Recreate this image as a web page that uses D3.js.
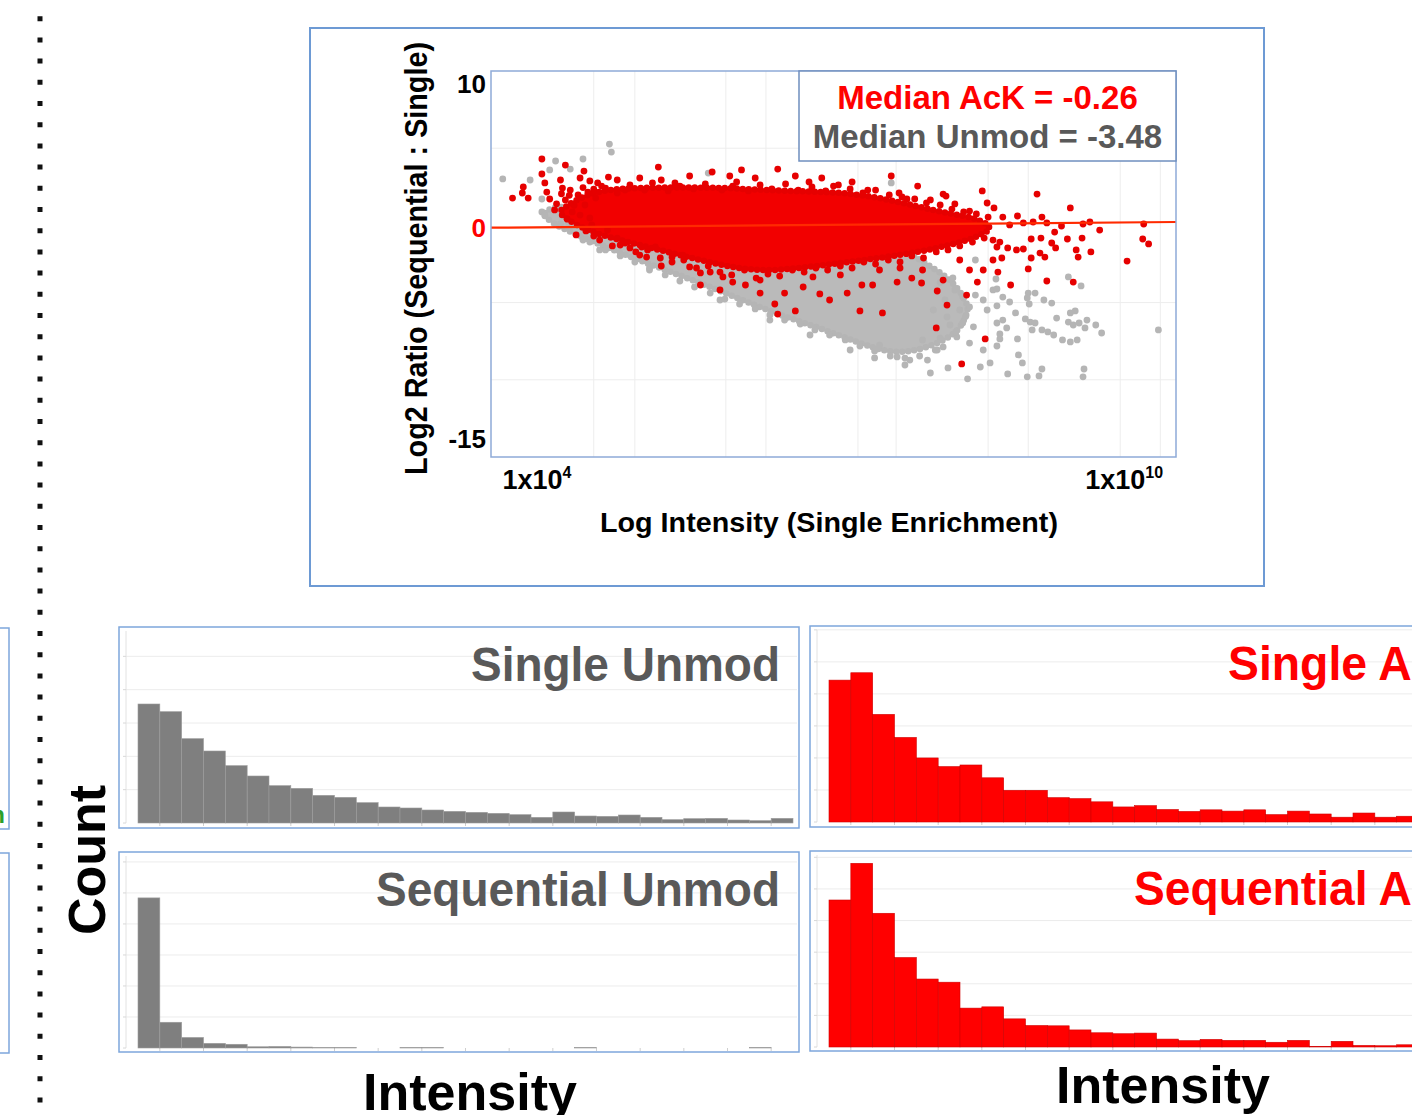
<!DOCTYPE html>
<html>
<head>
<meta charset="utf-8">
<script src="https://cdn.jsdelivr.net/npm/d3@7"></script>
<style>
  body { margin: 0; background: #fff; }
  svg { display: block; font-family: "Liberation Sans", Arial, sans-serif; font-weight: bold; }
</style>
</head>
<body>
<svg id="fig" width="1412" height="1115"></svg>
<script>
// ---------- scatter: x = log10 intensity, y = log2 ratio ----------
const xTicks = [1e4, 1e10];
const yTicks = [10, 0, -15];
const xGridExp = [4.58, 5.0, 5.93, 6.34, 7.28, 7.67, 8.61, 9.02, 9.96, 10.37];
const yGrid = [5, -5, -10];
const fitLine = [[3.53, -0.15], [10.53, 0.22]];
const medianAcK = -0.26;
const medianUnmod = -3.48;

// dense parts of each cloud: [x, low, high]
const greyCore = [[4.08,0.6,0.8],[4.18,0.03,1.32],[4.44,-0.69,1.0],[4.85,-1.79,0.67],[5.26,-2.76,0.67],[5.67,-3.73,0.67],
  [6.07,-4.77,0.67],[6.48,-5.8,0.35],[6.89,-6.65,0.03],[7.30,-7.62,-0.3],[7.61,-8.3,-0.95],
  [7.91,-8.1,-2.24],[8.17,-7.42,-3.21],[8.32,-6.78,-4.18],[8.40,-5.6,-5.2]];
const redCore = [[4.25,0.7,1.0],[4.39,0.03,1.65],[4.64,-0.62,2.29],[5.05,-1.27,2.45],[5.46,-1.92,2.45],[5.87,-2.56,2.45],
  [6.28,-3.0,2.3],[6.69,-2.76,2.2],[7.10,-2.44,2.15],[7.50,-2.11,1.8],[7.91,-1.72,1.2],
  [8.22,-1.27,0.75],[8.48,-0.82,0.5],[8.62,-0.3,0.0]];

const greyPts = [[3.65,3.01],[3.93,2.94],[4.19,4.17],[4.47,4.30],[4.74,5.27],[4.76,4.75],[5.75,3.39],
  [4.05,1.71],[4.05,0.87],[4.08,0.67],[4.32,0.22],[4.24,0.09],[4.13,3.59],[4.34,3.65],[4.47,-0.95],
  [7.62,2.75],[7.54,1.65],[8.05,-5.48],[8.19,-5.93],[8.35,-6.32],[8.29,-7.22],[8.42,-7.62],[8.56,-8.07],
  [8.63,-8.91],[8.40,-9.94],[8.53,-9.17],[8.09,-8.07],[7.99,-8.72],[7.81,-8.72],[7.68,-8.52],[7.94,-7.42],
  [8.15,-7.87],[8.42,-5.28],[8.56,-4.83],[8.66,-4.18],[8.60,-5.48],[8.70,-6.32],[8.46,-6.57],[9.43,-3.34],
  [9.56,-3.92],[8.69,-3.47],[8.70,-4.12],[8.76,-4.64],[8.83,-4.96],[9.02,-4.38],[9.09,-4.38],[9.01,-4.70],
  [9.03,-5.09],[9.18,-4.83],[9.26,-5.03],[8.70,-5.21],[8.89,-5.67],[9.31,-6.00],[9.45,-5.67],[9.50,-5.54],
  [9.43,-6.26],[9.48,-6.45],[9.54,-6.32],[9.60,-6.64],[8.99,-6.06],[9.04,-6.26],[9.09,-6.32],[8.76,-6.13],
  [8.80,-6.64],[9.06,-6.77],[9.16,-6.77],[9.22,-6.90],[9.28,-7.10],[9.77,-6.97],[10.35,-6.77],[9.37,-7.42],
  [9.45,-7.55],[8.73,-7.03],[8.73,-7.35],[8.91,-7.35],[8.70,-7.81],[8.92,-8.39],[8.96,-8.91],[8.81,-9.62],
  [9.01,-9.81],[9.13,-9.75],[9.16,-9.30],[9.59,-9.30],[9.58,-9.81],[9.71,-6.45],[9.62,-6.13],[9.52,-7.42],
  [4.64,-1.59],[5.15,-2.89],[5.87,-4.83],[6.38,-6.13],[6.79,-7.10],[7.20,-8.07],[7.45,-8.58],[7.76,-9.04],
  [7.50,-7.75],[8.20,-9.23],[8.02,-9.56],[8.48,-2.24],[8.27,-4.18],[8.17,-4.83],[8.32,-5.48],[8.48,-4.51],
  [8.22,-6.45],
  // ragged lower edge of the grey cloud
  [4.54,-1.08],[4.70,-1.59],[4.85,-1.98],[5.00,-2.37],[5.15,-2.76],[5.31,-3.21],[5.46,-3.60],[5.61,-3.99],
  [5.77,-4.38],[5.92,-4.77],[6.07,-5.09],[6.23,-5.41],[6.38,-5.80],[6.53,-6.13],[6.69,-6.39],[6.84,-6.77],
  [6.99,-7.10],[7.15,-7.42],[7.30,-7.81],[7.45,-8.13],[7.61,-8.46],[7.76,-8.59],[7.91,-8.46],[8.07,-8.07],
  [8.12,-3.70],[8.25,-3.40],[8.35,-4.60],[8.38,-5.90],[8.28,-6.90],[8.12,-7.30]];

const redPts = [[4.05,4.30],[4.29,3.91],[4.05,3.33],[3.86,2.49],[3.85,2.10],[3.75,1.77],[3.91,1.77],
  [4.08,2.75],[4.10,2.16],[4.13,1.71],[4.24,2.94],[4.26,2.42],[4.48,3.52],[4.44,3.07],[4.54,2.88],
  [4.34,2.29],[4.40,-0.62],[4.58,-0.69],[4.50,-0.36],[4.72,-0.30],[4.82,-0.82],[4.85,-1.27],[4.95,-1.46],
  [5.07,-1.40],[5.21,-1.40],[5.12,-2.05],[5.27,-2.63],[5.38,-2.05],[5.49,-1.92],[5.56,-2.69],[5.67,-3.08],
  [5.77,-3.02],[5.90,-3.34],[5.24,3.78],[5.27,2.94],[5.41,2.75],[5.97,3.20],[6.04,2.81],[4.62,2.75],
  [4.73,3.13],[4.82,2.94],[6.09,3.59],[6.46,3.65],[6.78,2.81],[7.03,2.55],[7.22,2.81],[7.62,3.20],
  [7.70,2.10],[8.15,2.03],[8.55,2.23],[8.60,1.45],[8.42,0.93],[8.27,1.39],[8.02,1.65],[7.78,1.71],
  [6.00,-3.67],[6.13,-3.86],[6.28,-4.38],[6.43,-5.09],[6.46,-5.74],[6.64,-5.54],[6.53,-4.38],[6.89,-4.44],
  [6.99,-4.83],[7.17,-4.38],[7.30,-5.54],[7.53,-5.67],[7.43,-3.86],[7.32,-3.86],[7.68,-3.67],[7.93,-3.73],
  [8.09,-4.25],[8.19,-5.16],[8.08,-6.64],[8.34,-8.97],[8.58,-7.35],[8.39,-4.51],[8.50,-3.67],[8.56,-2.89],
  [8.42,-2.89],[8.32,-2.24],[8.15,-3.54],[8.70,-1.40],[8.66,-2.24],[7.94,-2.89],[7.83,-3.41],[6.82,-3.34],
  [6.72,-3.99],[9.11,2.03],[9.45,1.13],[8.67,1.13],[8.76,0.54],[8.91,0.61],[9.16,0.54],[8.97,0.16],
  [9.07,0.22],[9.21,0.16],[9.36,-0.04],[9.58,0.09],[10.20,0.09],[10.19,-0.88],[10.25,-1.20],[10.03,-2.31],
  [9.66,-1.72],[9.53,-2.05],[9.51,-1.59],[9.42,-0.88],[9.57,-0.82],[9.30,-1.46],[9.26,-1.14],[9.15,-0.82],
  [9.19,-2.05],[9.14,-1.79],[9.05,-2.11],[9.05,-0.88],[8.97,-1.53],[8.90,-1.59],[8.81,-1.46],[8.75,-2.11],
  [8.71,-3.02],[9.02,-2.82],[9.21,-3.60],[9.48,-3.67],[8.84,-3.86],[8.73,-1.08],[8.66,-0.95],[8.83,0.03],
  [9.29,-0.43],[9.75,-0.30],[9.65,0.22],[5.05,3.07],[5.56,3.20],[5.79,3.46],[6.23,3.07],[6.64,3.20],
  [6.91,3.07],[7.38,2.29],[7.89,2.55],[8.18,1.90],[4.90,2.29],[4.29,1.65],[4.36,0.87],[4.49,1.32],
  [4.54,0.48],[4.18,1.00],[4.42,1.97],[5.05,-1.92],[5.67,-3.86],[5.87,-4.18],[6.28,-3.54],[7.10,-3.21],
  [7.50,-2.89],[7.71,-2.76],[4.44,0.67],[4.56,0.03],[4.60,1.77],[4.52,2.16],
  [4.20,1.40],[4.31,0.40],[4.38,1.30],[4.47,2.45],[4.33,1.95],[4.25,2.05],[4.58,2.35],[4.66,2.55],
  // ragged upper edge of the red cloud
  [4.70,2.42],[4.82,2.10],[4.95,2.62],[5.10,2.29],[5.18,2.75],[5.34,2.23],[5.46,2.55],[5.60,2.36],
  [5.72,2.68],[5.89,2.29],[6.00,2.55],[6.16,2.23],[6.28,2.62],[6.40,2.36],[6.54,2.68],[6.67,2.29],
  [6.81,2.49],[6.95,2.23],[7.08,2.62],[7.20,2.36],[7.33,2.10],[7.46,2.29],[7.60,1.97],[7.73,1.84],
  [7.86,1.71],[7.98,1.45],[8.12,1.32],[8.24,1.06],[8.36,0.87],[8.49,0.74],[8.61,0.54],
  // ragged lower edge of the red cloud
  [4.64,-0.95],[4.77,-1.33],[4.90,-1.14],[5.01,-1.72],[5.13,-1.59],[5.26,-2.11],[5.38,-2.37],[5.50,-2.24],
  [5.63,-2.76],[5.75,-2.63],[5.87,-3.02],[5.99,-3.21],[6.12,-2.89],[6.24,-3.41],[6.36,-3.15],[6.48,-3.28],
  [6.61,-2.89],[6.73,-3.02],[6.85,-2.76],[6.97,-2.89],[7.10,-2.63],[7.22,-2.76],[7.34,-2.37],[7.46,-2.50],
  [7.59,-2.24],[7.71,-2.37],[7.83,-1.98],[7.95,-2.11],[8.08,-1.72],[8.20,-1.59],[8.32,-1.33],[8.45,-1.08],
  [8.57,-0.82]];

// ---------- histograms: 30 intensity bins, counts ----------
const histBins = 30;
const singleUnmod = [357,334,253,216,172,141,112,104,83,77,61,48,45,39,35,32,29,25,17,33,21,20,24,17,10,13,14,9,7,14];
const seqUnmod = [484,83,34,15,12,4,5,3,1,1,0,0,1,1,0,0,0,0,0,0,1,0,0,0,0,0,0,0,1,0];
const singleAcK = [443,466,336,264,200,173,178,138,99,99,76,73,63,47,51,39,33,38,34,38,23,34,25,15,28,15,18,12,10,8];
const seqAcK = [465,581,423,283,215,205,123,127,89,68,67,54,45,42,44,25,20,24,21,21,15,21,2,18,5,4,7,4,3,3];

const RED = "#ff0000", GREY_TXT = "#595959", BORDER = "#7ea6dc";
const svg = d3.select("#fig");

// dotted separator on the left
svg.append("line").attr("x1", 40).attr("x2", 40).attr("y1", -5).attr("y2", 1112)
  .attr("stroke", "#111").attr("stroke-width", 5).attr("stroke-dasharray", "5,16.2");

// panels cut off at the left edge
[[628, 201], [853, 200]].forEach(([py, h]) => {
  svg.append("rect").attr("x", -671).attr("y", py).attr("width", 680).attr("height", h)
    .attr("fill", "none").attr("stroke", BORDER).attr("stroke-width", 1.5);
});
svg.append("text").attr("x", 5).attr("y", 823).attr("text-anchor", "end")
  .attr("fill", "#2ca02c").style("font-size", "24px").text("n");

// ---------- scatter ----------
svg.append("rect").attr("x", 310).attr("y", 28).attr("width", 954).attr("height", 558)
  .attr("fill", "none").attr("stroke", "#6d9ad4").attr("stroke-width", 2);

const x = d3.scaleLog().domain([Math.pow(10, 3.53), Math.pow(10, 10.53)]).range([491, 1176]);
const y = d3.scaleLinear().domain([-15, 10]).range([457, 71]);
const px = e => x(Math.pow(10, e));

const sc = svg.append("g");
sc.selectAll(".vg").data(xGridExp).join("line").attr("class", "vg")
  .attr("x1", px).attr("x2", px).attr("y1", 71).attr("y2", 457)
  .attr("stroke", "#ededed").attr("stroke-width", 1);
sc.selectAll(".hg").data(yGrid).join("line").attr("class", "hg")
  .attr("x1", 491).attr("x2", 1176).attr("y1", d => y(d)).attr("y2", d => y(d))
  .attr("stroke", "#ededed").attr("stroke-width", 1);

const core = d3.area().curve(d3.curveBasis)
  .x(d => px(d[0])).y0(d => y(d[1])).y1(d => y(d[2]));

// dense cores get a beaded outline so their edges read as dots
sc.append("path").datum(greyCore).attr("d", core).attr("fill", "#bababa")
  .attr("stroke", "#b5b5b5").attr("stroke-width", 6.5).attr("stroke-linecap", "round")
  .attr("stroke-dasharray", "0 6");
sc.selectAll(".gp").data(greyPts).join("circle").attr("class", "gp")
  .attr("cx", d => px(d[0])).attr("cy", d => y(d[1])).attr("r", 3.4).attr("fill", "#b5b5b5");
sc.append("path").datum(redCore).attr("d", core).attr("fill", "#f20000")
  .attr("stroke", "#e60000").attr("stroke-width", 6.5).attr("stroke-linecap", "round")
  .attr("stroke-dasharray", "0 6");
sc.selectAll(".rp").data(redPts).join("circle").attr("class", "rp")
  .attr("cx", d => px(d[0])).attr("cy", d => y(d[1])).attr("r", 3.4).attr("fill", "#e60000");

sc.append("path").datum(fitLine)
  .attr("d", d3.line().x(d => px(d[0])).y(d => y(d[1])))
  .attr("stroke", "#ff2a00").attr("stroke-width", 2.2).attr("fill", "none");

sc.append("rect").attr("x", 491).attr("y", 71).attr("width", 685).attr("height", 386)
  .attr("fill", "none").attr("stroke", "#8eaad8").attr("stroke-width", 1.5);

// legend box
sc.append("rect").attr("x", 799).attr("y", 71).attr("width", 377).attr("height", 90)
  .attr("fill", "#fff").attr("stroke", "#6f8fbf").attr("stroke-width", 1.5);
sc.append("text").attr("x", 987.5).attr("y", 109).attr("text-anchor", "middle")
  .attr("fill", RED).style("font-size", "33px").text("Median AcK = " + medianAcK.toFixed(2));
sc.append("text").attr("x", 987.5).attr("y", 148).attr("text-anchor", "middle")
  .attr("fill", GREY_TXT).style("font-size", "33px").text("Median Unmod = " + medianUnmod.toFixed(2));

// y tick labels (placed just inside the ends of the axis)
sc.selectAll(".yt").data(yTicks).join("text").attr("class", "yt")
  .attr("x", 486).attr("text-anchor", "end")
  .attr("y", d => y(d) + (d === 10 ? 22 : d === -15 ? -9 : 12))
  .attr("fill", d => d === 0 ? RED : "#000").style("font-size", "26px").text(d => d);

// x tick labels 1x10^n
const xt = sc.selectAll(".xt").data(xTicks).join("text").attr("class", "xt")
  .attr("x", d => x(d)).attr("y", 489).attr("text-anchor", "middle").style("font-size", "27px");
xt.append("tspan").text("1x10");
xt.append("tspan").attr("dy", -11).style("font-size", "16px").text(d => Math.round(Math.log10(d)));

sc.append("text").attr("x", 829).attr("y", 532).attr("text-anchor", "middle")
  .attr("textLength", 458).attr("lengthAdjust", "spacingAndGlyphs")
  .style("font-size", "27px").text("Log Intensity (Single Enrichment)");
sc.append("text").attr("transform", "translate(427,258.5) rotate(-90)").attr("text-anchor", "middle")
  .attr("textLength", 433).attr("lengthAdjust", "spacingAndGlyphs")
  .style("font-size", "31px").text("Log2 Ratio (Sequential : Single)");

// ---------- histograms ----------
const panels = [
  { title: "Single Unmod", counts: singleUnmod, fill: "#7f7f7f", edge: "#9c9c9c", tc: GREY_TXT, x: 119, y: 627, ymax: 588, tl: 309 },
  { title: "Sequential Unmod", counts: seqUnmod, fill: "#7f7f7f", edge: "#9c9c9c", tc: GREY_TXT, x: 119, y: 852, ymax: 632, tl: 404 },
  { title: "Single AcK", counts: singleAcK, fill: "#ff0000", edge: "#d00000", tc: RED, x: 810, y: 626, ymax: 612, tl: 243 },
  { title: "Sequential AcK", counts: seqAcK, fill: "#ff0000", edge: "#d00000", tc: RED, x: 810, y: 851, ymax: 620, tl: 337 }
];

panels.forEach(p => {
  const g = svg.append("g");
  const bx = d3.scaleLinear().domain([0, histBins]).range([p.x + 19, p.x + 674]);
  const by = d3.scaleLinear().domain([0, p.ymax]).range([p.y + 196, p.y]);
  const base = by(0);

  g.selectAll(".hgl").data(d3.range(100, p.ymax, 100)).join("line").attr("class", "hgl")
    .attr("x1", p.x + 7).attr("x2", p.x + 678).attr("y1", d => by(d)).attr("y2", d => by(d))
    .attr("stroke", "#ececec");
  g.append("line").attr("x1", p.x + 7).attr("x2", p.x + 7).attr("y1", p.y + 4).attr("y2", base)
    .attr("stroke", "#e2e2e2");
  g.selectAll(".ytk").data(d3.range(0, p.ymax, 100)).join("line").attr("class", "ytk")
    .attr("x1", p.x + 4).attr("x2", p.x + 7).attr("y1", d => by(d)).attr("y2", d => by(d))
    .attr("stroke", "#d8d8d8");
  g.selectAll(".xtk").data(d3.range(1, histBins + 1, 2)).join("line").attr("class", "xtk")
    .attr("x1", d => bx(d)).attr("x2", d => bx(d)).attr("y1", base).attr("y2", base + 3)
    .attr("stroke", "#cfcfcf");

  g.selectAll(".bar").data(p.counts).join("rect").attr("class", "bar")
    .attr("x", (d, i) => bx(i)).attr("width", bx(1) - bx(0))
    .attr("y", d => by(d)).attr("height", d => base - by(d))
    .attr("fill", p.fill).attr("stroke", p.edge).attr("stroke-width", 0.6);

  g.append("rect").attr("x", p.x).attr("y", p.y).attr("width", 680).attr("height", p.y < 700 ? 201 : 200)
    .attr("fill", "none").attr("stroke", BORDER).attr("stroke-width", 1.5);

  g.append("text").attr("x", p.x + 661).attr("y", p.y + 54)
    .attr("text-anchor", "end").attr("fill", p.tc)
    .attr("textLength", p.tl).attr("lengthAdjust", "spacingAndGlyphs")
    .style("font-size", "48px").text(p.title);
});

// shared axis titles
svg.append("text").attr("transform", "translate(105,860) rotate(-90)").attr("text-anchor", "middle")
  .style("font-size", "52px").text("Count");
svg.append("text").attr("x", 470).attr("y", 1110).attr("text-anchor", "middle")
  .style("font-size", "52px").text("Intensity");
svg.append("text").attr("x", 1163).attr("y", 1103).attr("text-anchor", "middle")
  .style("font-size", "52px").text("Intensity");
</script>
</body>
</html>
